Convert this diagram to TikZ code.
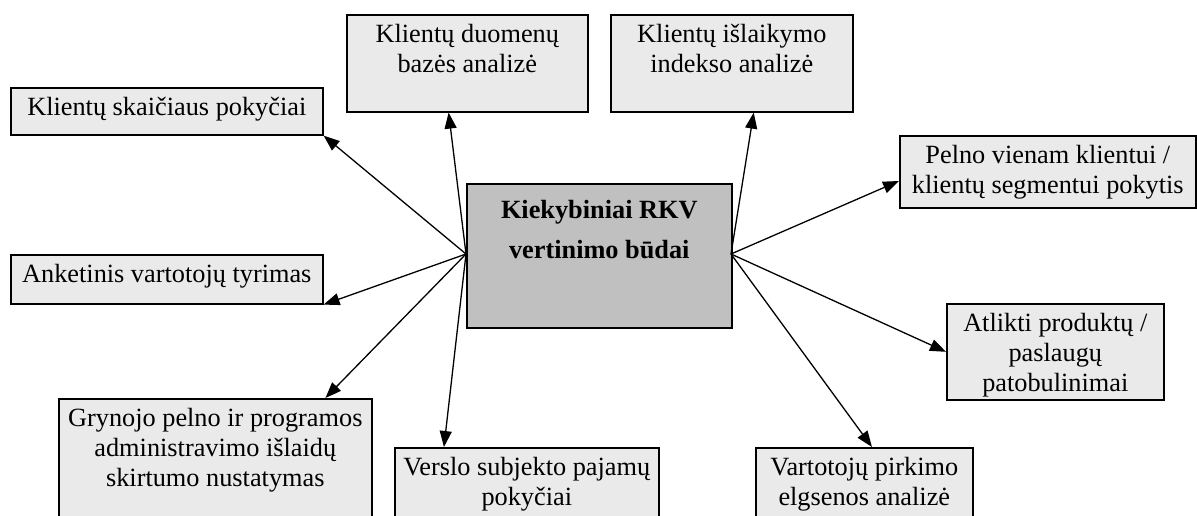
\documentclass[tikz,border=0pt]{standalone}
\usepackage{fontspec}
\setmainfont{Liberation Serif}
\usetikzlibrary{arrows.meta,calc}
\definecolor{boxgray}{RGB}{234,234,234}
\definecolor{hubgray}{RGB}{192,192,192}
\newcommand\boxtext[3]{\parbox[t][#2pt][t]{#1pt}{\centering\vspace*{9pt}#3\par}}
\begin{document}
\begin{tikzpicture}[x=1pt,y=-1pt,
  every node/.style={font=\fontsize{26.3}{30}\selectfont},
  box/.style={draw=black, line width=1.6pt, fill=boxgray, inner sep=0pt, anchor=north west},
  hub/.style={draw=black, line width=1.6pt, fill=hubgray, inner sep=0pt, anchor=north west,
    font=\fontsize{26.3}{40}\selectfont\bfseries},
  conn/.style={line width=1.3pt, -{Triangle[length=16pt,width=12pt]}}]
\clip (0,0) rectangle (1197,515);
% center
\node[hub] (c) at (466,183) {\boxtext{265}{144}{\vspace*{7pt}Kiekybiniai RKV\\vertinimo būdai}};
\coordinate (L) at (466,254);
\coordinate (R) at (731,254);
% boxes
\node[box] (a) at (10,87)  {\boxtext{312}{47}{Klientų skaičiaus pokyčiai}};
\node[box] (b) at (346,14) {\boxtext{241}{97}{Klientų duomenų\\bazės analizė}};
\node[box] (cc) at (610,14) {\boxtext{242}{97}{Klientų išlaikymo\\indekso analizė}};
\node[box] (d) at (899,135) {\boxtext{296}{72}{Pelno vienam klientui /\\klientų segmentui pokytis}};
\node[box] (e) at (10,254) {\boxtext{312}{49}{Anketinis vartotojų tyrimas}};
\node[box] (f) at (946,303) {\boxtext{217}{96}{Atlikti produktų /\\paslaugų\\patobulinimai}};
\node[box] (g) at (58,398) {\boxtext{313}{140}{Grynojo pelno ir programos\\administravimo išlaidų\\skirtumo nustatymas}};
\node[box] (h) at (394,447) {\boxtext{264}{100}{Verslo subjekto pajamų\\pokyčiai}};
\node[box] (i) at (755,447) {\boxtext{217}{100}{Vartotojų pirkimo\\elgsenos analizė}};
% connectors
\draw[conn] (L) -- (a.south east);
\draw[conn] (L) -- ($(b.south west)!0.423!(b.south east)$);
\draw[conn] (R) -- ($(cc.south west)!0.59!(cc.south east)$);
\draw[conn] (R) -- ($(d.north west)!0.625!(d.south west)$);
\draw[conn] (L) -- (e.south east);
\draw[conn] (R) -- (f.west);
\draw[conn] (L) -- ($(g.north west)!0.85!(g.north east)$);
\draw[conn] (L) -- ($(h.north west)!0.188!(h.north east)$);
\draw[conn] (R) -- ($(i.north west)!0.535!(i.north east)$);
\end{tikzpicture}
\end{document}
